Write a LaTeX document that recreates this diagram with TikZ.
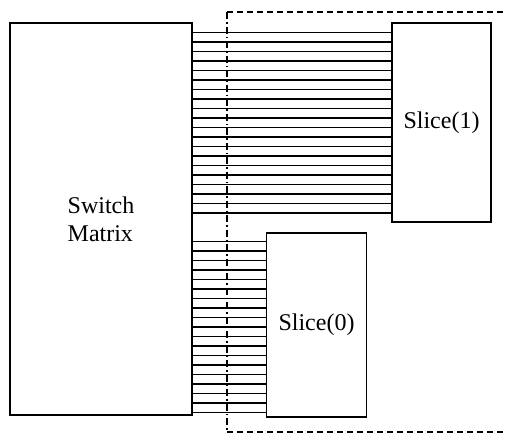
\documentclass[tikz,border=0pt]{standalone}
\usepackage{fontspec}
\setmainfont{Liberation Serif}
\usepackage{tikz}
\usetikzlibrary{positioning}

\begin{document}
\begin{tikzpicture}[x=1pt,y=-1pt,
  blk/.style={draw,line width=1.7pt,inner sep=0pt,align=left,font=\fontsize{24}{28}\selectfont},
  wire/.style={line width=1.5pt},
  frame/.style={line width=1.5pt,dash pattern=on 6pt off 4pt},
  frameside/.style={line width=1.5pt,dash pattern=on 7pt off 3pt on 1.5pt off 3pt}
]
\useasboundingbox (0,0) rectangle (507,434);
\node[blk,minimum width=182pt,minimum height=392pt] (sw) at (101,219) {Switch\\Matrix};
\node[blk,minimum width=99pt,minimum height=199pt] (s1) at (441.5,122.5) {Slice(1)};
\node[blk,minimum width=100pt,minimum height=184pt] (s0) at (316.5,325) {Slice(0)};
% dashed boundary
\coordinate (ftl) at (227,12);
\coordinate (ftr) at (507,12);
\coordinate (fbl) at (227,432);
\coordinate (fbr) at (507,432);
\draw[frameside] (ftl) -- (fbl);
\draw[frame] (ftl) -- (ftr);
\draw[frame] (fbl) -- (fbr);
% wires
\foreach \i in {0,...,19}
  \draw[wire] (sw.east |- 0,{32.3+9.5*\i}) -- (s1.west |- 0,{32.3+9.5*\i});
\foreach \i in {0,...,18}
  \draw[wire] (sw.east |- 0,{241.7+9.5*\i}) -- (s0.west |- 0,{241.7+9.5*\i});
\end{tikzpicture}
\end{document}
